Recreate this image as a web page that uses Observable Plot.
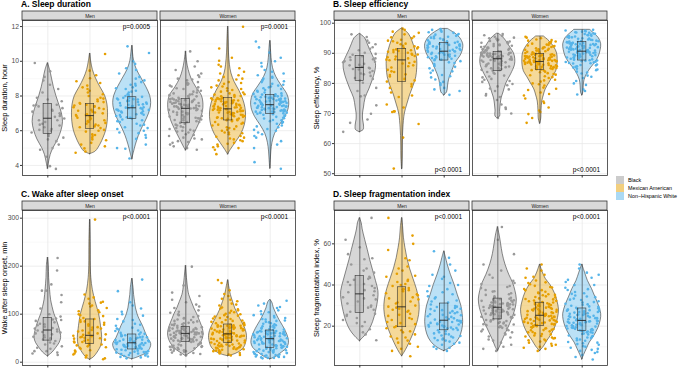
<!DOCTYPE html>
<html><head><meta charset="utf-8">
<script src="https://cdn.jsdelivr.net/npm/d3@7"></script>
<script src="https://cdn.jsdelivr.net/npm/@observablehq/plot@0.6"></script>
<style>
body{margin:0;width:685px;height:368px;position:relative;overflow:hidden;background:#fff;font-family:"Liberation Sans",Arial,sans-serif}
.ttl{position:absolute;font-weight:bold;font-size:8.5px;line-height:9px;color:#000;white-space:nowrap}
.pn{position:absolute}
.lg{position:absolute;left:616px;top:176px;font-size:5.4px;color:#000}
.lg div{display:flex;align-items:center;height:8px;white-space:nowrap}
.lg span.k{display:inline-block;width:8px;height:7.5px;margin-right:4px}
</style></head><body>
<div class="ttl" style="left:21px;top:-0.5px">A. Sleep duration</div>
<div class="ttl" style="left:333px;top:-0.5px">B. Sleep efficiency</div>
<div class="ttl" style="left:21px;top:189.5px">C. Wake after sleep onset</div>
<div class="ttl" style="left:333px;top:189.5px">D. Sleep fragmentation index</div>
<div id="pA" class="pn" style="left:0;top:11px"></div>
<div id="pB" class="pn" style="left:300px;top:11px"></div>
<div id="pC" class="pn" style="left:0;top:201px"></div>
<div id="pD" class="pn" style="left:300px;top:201px"></div>
<div class="lg" id="lg"></div>
<script>
const sexes = ["Men", "Women"];
const groups = ["Black", "Mexican American", "Non-Hispanic White"];
const colors = ["#999999", "#E69F00", "#56B4E9"];

// ---------- A. Sleep duration (hour) ----------
const durMenBlack = [3.8,3.96,4.5,4.9,5.2,5.4,5.5,5.7,5.8,5.9,6.0,6.1,6.2,6.3,6.4,6.5,6.6,6.7,6.8,6.9,7.0,7.1,7.2,7.3,7.4,7.5,7.5,7.7,7.9,8.2,8.65,8.89,9.1,9.42,9.9,5.0,5.6,6.05,6.35,6.6,6.85,7.15,7.45,7.8,8.4];
const durMenMex = [4.73,4.8,4.98,5.1,5.3,5.5,5.6,5.7,5.8,5.95,6.05,6.15,6.2,6.3,6.35,6.45,6.5,6.6,6.65,6.7,6.8,6.85,6.9,6.95,7.0,7.1,7.15,7.2,7.3,7.35,7.4,7.45,7.5,7.6,7.7,7.8,7.9,8.0,8.2,8.4,8.6,8.85,9.02,9.46,10.42,5.2,5.45,5.75,6.0,6.25,6.4,6.55,6.75,6.9,7.05,7.25,7.4,7.55,7.65,7.85,8.1,8.3,8.5,8.75,9.2];
const durMenWhite = [4.4,4.96,5.2,5.53,5.6,5.86,5.9,6.0,6.1,6.2,6.3,6.4,6.5,6.55,6.65,6.7,6.75,6.8,6.85,6.9,6.95,7.0,7.05,7.1,7.15,7.2,7.2,7.25,7.3,7.3,7.35,7.4,7.45,7.5,7.5,7.55,7.6,7.65,7.7,7.75,7.8,7.8,7.85,7.9,7.9,8.0,8.1,8.2,8.3,8.4,8.5,8.6,8.7,8.9,9.1,9.3,9.5,10.0,10.48,10.86,5.0,5.75,6.15,6.35,6.6,6.78,6.92,7.02,7.12,7.22,7.33,7.42,7.52,7.62,7.72,7.82,7.95,8.05,8.25,8.45,8.65,8.8,9.0,9.6,9.85];
const durWomenBlack = [4.9,5.0,5.2,5.3,5.4,5.5,5.6,5.7,5.8,5.9,6.0,6.05,6.1,6.2,6.25,6.3,6.4,6.45,6.5,6.55,6.6,6.65,6.7,6.75,6.8,6.85,6.9,6.95,7.0,7.05,7.1,7.15,7.2,7.25,7.28,7.3,7.35,7.4,7.4,7.45,7.5,7.5,7.55,7.6,7.6,7.65,7.7,7.7,7.75,7.8,7.8,7.82,7.83,7.9,8.0,8.05,8.1,8.2,8.3,8.4,8.5,8.6,8.7,8.8,8.9,9.0,9.2,9.5,10.0,10.57,5.1,5.35,5.55,5.75,5.95,6.15,6.35,6.5,6.62,6.72,6.82,6.92,7.02,7.1,7.18,7.22,7.26,7.32,7.36,7.42,7.46,7.52,7.56,7.62,7.66,7.72,7.76,7.85,7.92,7.98,8.08,8.15,8.25,8.35,8.45,8.55,8.65,8.75,8.95,9.1,9.3,9.7,6.0,6.7,7.4];
const durWomenMex = [4.65,4.9,5.0,5.1,5.2,5.3,5.4,5.5,5.6,5.7,5.8,5.85,5.9,6.0,6.1,6.15,6.2,6.3,6.4,6.45,6.55,6.6,6.62,6.65,6.7,6.72,6.75,6.8,6.85,6.88,6.9,6.95,7.0,7.02,7.05,7.1,7.12,7.15,7.18,7.2,7.22,7.25,7.27,7.3,7.32,7.35,7.4,7.42,7.45,7.5,7.52,7.55,7.6,7.62,7.65,7.7,7.72,7.75,7.8,7.82,7.85,7.87,7.88,7.95,8.0,8.05,8.1,8.2,8.3,8.35,8.4,8.5,8.6,8.7,8.8,8.9,9.0,9.2,9.4,9.6,9.8,10.03,10.2,10.74,11.99,5.05,5.25,5.45,5.65,5.9,6.05,6.25,6.35,6.5,6.6,6.68,6.78,6.83,6.92,6.98,7.04,7.08,7.14,7.2,7.24,7.3,7.34,7.38,7.44,7.48,7.54,7.58,7.64,7.68,7.74,7.78,7.84,7.9,7.98,8.08,8.15,8.25,8.45,8.55,8.75,8.95,9.1,9.3,9.7,5.55];
const durWomenWhite = [3.81,4.19,5.0,5.4,5.6,5.8,5.9,6.0,6.1,6.2,6.3,6.4,6.5,6.55,6.6,6.7,6.75,6.8,6.88,6.95,7.0,7.02,7.05,7.08,7.1,7.12,7.15,7.18,7.2,7.23,7.25,7.28,7.3,7.33,7.35,7.38,7.4,7.43,7.45,7.48,7.52,7.55,7.58,7.6,7.62,7.65,7.68,7.7,7.72,7.75,7.78,7.8,7.83,7.85,7.88,7.9,7.93,7.96,8.0,8.04,8.1,8.15,8.2,8.3,8.4,8.5,8.6,8.7,8.8,8.9,9.0,9.1,9.3,9.5,9.7,10.0,10.2,10.5,10.8,11.14,5.2,5.7,6.05,6.25,6.45,6.62,6.72,6.85,6.92,6.98,7.04,7.1,7.16,7.22,7.26,7.32,7.36,7.42,7.46,7.5,7.54,7.58,7.64,7.66,7.7,7.74,7.78,7.82,7.86,7.9,7.95,7.98,8.02,8.08,8.12,8.25,8.35,8.45,8.55,8.65,8.85,9.05,9.2,9.4,9.9];
// violin outlines: [value, relative half-width]
const durMenBlackViolin = [[3.8,0],[4.1,0.05],[4.6,0.15],[5.0,0.3],[5.5,0.55],[6.0,0.72],[6.5,0.8],[7.0,0.74],[7.5,0.6],[8.0,0.45],[8.5,0.32],[9.0,0.22],[9.5,0.12],[9.9,0]];
const durMenMexViolin = [[4.65,0],[4.8,0.3],[5.2,0.55],[5.6,0.72],[6.0,0.85],[6.5,0.93],[7.0,0.95],[7.5,0.92],[8.0,0.8],[8.5,0.55],[9.0,0.32],[9.5,0.15],[10.0,0.06],[10.45,0]];
const durMenWhiteViolin = [[4.35,0],[4.7,0.08],[5.2,0.2],[5.7,0.35],[6.2,0.55],[6.7,0.78],[7.2,0.95],[7.6,1],[8.0,0.95],[8.5,0.75],[9.0,0.5],[9.5,0.25],[10.0,0.1],[10.5,0.04],[10.9,0]];
const durWomenBlackViolin = [[4.86,0],[5.1,0.12],[5.6,0.35],[6.1,0.58],[6.6,0.78],[7.1,0.9],[7.5,0.93],[8.0,0.85],[8.5,0.55],[9.0,0.3],[9.5,0.15],[10.0,0.06],[10.57,0]];
const durWomenMexViolin = [[4.63,0],[4.9,0.15],[5.3,0.4],[5.8,0.7],[6.3,0.88],[6.8,0.95],[7.3,0.92],[7.8,0.8],[8.3,0.6],[8.8,0.35],[9.3,0.18],[9.8,0.1],[10.5,0.05],[11.2,0.03],[12.0,0]];
const durWomenWhiteViolin = [[3.81,0],[4.3,0.03],[4.8,0.06],[5.3,0.12],[5.8,0.25],[6.3,0.5],[6.8,0.8],[7.3,0.98],[7.7,1],[8.1,0.9],[8.6,0.6],[9.1,0.32],[9.6,0.15],[10.2,0.07],[10.7,0.04],[11.18,0]];
// boxes: [q1, median, q3]
const durBoxes = [[5.82,6.72,7.55],[6.1,6.87,7.55],[6.68,7.32,7.93],[6.43,7.29,7.83],[6.59,7.26,7.89],[6.97,7.5,8.06]];
const durTicks = [4, 6, 8, 10, 12];
const durMinor = [5, 7, 9, 11];
const durP = ["p=0.0005", "p=0.0001"];

// ---------- B. Sleep efficiency (%) ----------
const effMenBlack = [63.9,66.9,68,69.9,72.7,75.7,76,78.5,80.2,81,81.8,82.5,83,83.6,84.1,84.6,85,85.2,85.5,86,86.5,87,87.4,87.8,88.3,88.7,89,89.5,90.2,91,92,93,94.2,95.4,96.3,77.5,81.5,83.3,84.8,86.2,87.2,88,89.8,91.5,93.5];
const effMenMex = [51.7,62,66.5,70.5,70.7,70.7,73,75.5,77,78.5,79.8,80.6,81.5,82.3,83,83.8,84.5,85.3,86,86.6,87.2,87.7,87.9,88.3,88.7,89.1,89.5,89.8,90.2,90.5,90.8,91.1,91.3,91.6,92,92.5,93,93.5,94,94.5,95,95.6,96.3,97.2,98.2,72,76,79,81,82.8,84,85.7,86.8,88,88.9,89.6,90.4,91,91.8,92.3,93.2,94.2,95.3,96.8,97.8];
const effMenWhite = [76.2,77.5,78.5,79.5,80.5,81.3,82,82.8,83.5,84.3,85,85.8,86.4,87,87.4,87.7,87.9,88.2,88.4,88.7,88.9,89.2,89.4,89.6,89.8,90,90.2,90.4,90.5,90.6,90.8,91,91.2,91.4,91.6,91.8,92,92.2,92.4,92.6,92.8,93,93.1,93.2,93.3,93.5,93.8,94,94.3,94.6,94.9,95.2,95.5,95.8,96.1,96.4,96.8,97.2,97.6,98.1,78,80,82.4,84,85.5,86.8,88,88.6,89,89.5,90.1,90.7,91.1,91.5,91.9,92.3,92.7,93.2,93.7,94.4,95,95.6,96.2,97,97.8];
const effWomenBlack = [68.5,70,71.5,73,74.5,75.5,76.5,77.5,78.3,79,79.8,80.5,81.2,82,82.6,83.2,83.8,84.2,84.5,84.8,85.1,85.4,85.7,86,86.2,86.5,86.7,87,87.2,87.4,87.6,87.8,87.9,88,88.1,88.3,88.4,88.5,88.7,88.8,88.9,89,89.1,89.3,89.4,89.5,89.6,89.8,89.9,90,90.1,90.2,90.3,90.5,90.7,91,91.3,91.6,91.9,92.2,92.5,92.9,93.3,93.7,94.1,94.5,95,95.5,96,96.4,72,76,78,79.4,80.8,82.3,83.5,84.4,85,85.6,86.1,86.6,87.1,87.5,87.85,88.05,88.35,88.6,88.85,89.05,89.25,89.45,89.7,89.95,90.15,90.4,90.6,90.9,91.2,91.5,91.8,92.1,92.4,92.7,93.1,93.5,93.9,94.3,94.8,95.2,95.8,81.5,86.3,88.2,89.2];
const effWomenMex = [66.9,68.5,69.8,70.5,72,73.5,75,76,77,77.8,78.6,79.3,80,80.6,81.2,81.8,82.4,82.9,83.4,83.9,84.3,84.6,84.7,84.9,85,85.2,85.3,85.5,85.6,85.8,85.9,86.1,86.2,86.4,86.5,86.7,86.8,86.9,87,87.1,87.2,87.25,87.4,87.5,87.6,87.7,87.8,87.9,88,88.2,88.3,88.4,88.5,88.7,88.8,88.9,89,89.1,89.3,89.4,89.5,89.6,89.7,89.9,90.1,90.3,90.5,90.7,90.9,91.1,91.3,91.5,91.7,91.9,92.1,92.3,92.6,92.9,93.2,93.5,93.8,94.2,94.6,95,95.5,71,74,76.5,78.2,79.7,81,82.1,83.1,83.7,84.4,84.8,85.1,85.4,85.7,86,86.3,86.6,86.9,87.15,87.35,87.55,87.75,87.95,88.1,88.35,88.6,88.85,89.05,89.25,89.55,89.8,90,90.4,90.8,91.2,91.6,92,92.4,92.8,93.3,93.9,94.4,95.2,82.7,86.45];
const effWomenWhite = [76.3,78,79.5,80.8,81.8,82.6,83.3,83.9,84.4,84.9,85.3,85.7,86,86.3,86.6,86.8,87,87.2,87.4,87.5,87.7,87.9,88,88.2,88.4,88.5,88.7,88.9,89,89.2,89.4,89.5,89.7,89.9,90,90.2,90.3,90.4,90.5,90.6,90.8,91,91.1,91.3,91.4,91.6,91.8,91.9,92.1,92.3,92.4,92.6,92.8,92.9,93,93.1,93.3,93.4,93.5,93.6,93.8,94,94.2,94.4,94.6,94.8,95,95.2,95.4,95.6,95.8,96,96.2,96.4,96.6,96.8,97,97.2,97.5,97.8,77.5,80,82.2,83.6,84.6,85.5,86.1,86.7,87.1,87.6,88.1,88.6,89.1,89.6,90.1,90.45,90.7,90.9,91.2,91.5,91.7,92,92.2,92.5,92.7,93.05,93.25,93.45,93.7,93.9,94.1,94.5,94.9,95.3,95.7,96.1,96.5,96.9,97.3,97.6,89.3,90.25,91.05,92.05,93.15];
const effMenBlackViolin = [[63.8,0],[64.5,0.2],[66,0.22],[68,0.17],[70,0.17],[72,0.22],[75,0.3],[78,0.5],[81,0.68],[84,0.82],[86.5,0.85],[89,0.7],[91,0.55],[93,0.42],[95,0.28],[96.5,0]];
const effMenMexViolin = [[51.5,0],[55,0.03],[60,0.04],[65,0.07],[70,0.15],[73,0.28],[76,0.42],[79,0.6],[82,0.75],[85,0.8],[88,0.8],[91,0.7],[94,0.55],[96.5,0.35],[98.3,0]];
const effMenWhiteViolin = [[76,0],[77,0.15],[79,0.2],[81,0.25],[83,0.35],[85,0.48],[87,0.62],[89,0.85],[91,0.98],[93,1],[95,0.85],[96.5,0.6],[97.5,0.35],[98.1,0.2]];
const effWomenBlackViolin = [[68.3,0],[69,0.12],[71,0.12],[73,0.15],[75,0.2],[77,0.3],[80,0.45],[83,0.7],[86,0.9],[88,0.92],[90,0.85],[92,0.65],[94,0.45],[95.5,0.25],[96.5,0.05]];
const effWomenMexViolin = [[66.6,0],[68,0.06],[71,0.08],[74,0.12],[76,0.2],[78,0.3],[80,0.48],[82,0.66],[84,0.85],[86,0.92],[88,0.93],[90,0.9],[92,0.75],[94,0.5],[95.6,0.2]];
const effWomenWhiteViolin = [[76,0],[77,0.06],[79,0.08],[81,0.12],[83,0.25],[85,0.45],[87,0.7],[89,0.88],[91,0.97],[93,1],[95,0.88],[96.5,0.65],[97.3,0.5],[97.8,0.42]];
const effBoxes = [[80.8,85.3,89.1],[80.4,87.8,91.4],[87.6,90.7,93.4],[84.1,88.2,90.4],[84.5,87.3,89.8],[87.6,90.7,93.7]];
const effTicks = [50, 60, 70, 80, 90, 100];
const effMinor = [55, 65, 75, 85, 95];
const effP = ["p<0.0001", "p<0.0001"];

// ---------- C. Wake after sleep onset (min) ----------
const wasoMenBlack = [15,20,23,23,28,33,37,41,44,47,50,53,56,58,60,62,64,66,68,71,74,77,80,83,86,89,91,100,112,140,149,149,162,191,217,18,30,39,52,63,70,79,88,95,125];
const wasoMenMex = [6,10,14,18,22,25,28,30,33,35,37,39,41,43,45,47,49,50,52,53,54,55,58,61,64,67,70,73,76,79,82,85,88,92,96,100,104,108,113,118,122,126,135,141,297,8,16,24,31,36,42,46,51,57,60,66,72,78,84,90,98,106,116,124,132];
const wasoMenWhite = [8,10,12,13,15,16,17,18,19,20,21,22,23,24,26,27,28,29,30,31,32,33,34,35,36,37,38,39,40,40,41,42,43,44,45,46,47,48,50,51,52,53,54,56,57,59,62,65,68,72,76,80,85,90,97,105,112,125,148,172,11,14,18,21,25,28,31,34,36,38,41,43,45,47,49,52,55,58,61,66,70,78,88,100,118];
const wasoWomenBlack = [14,17,20,22,24,26,28,30,31,32,33,34,35,36,38,39,41,42,43,44,45,46,47,48,49,50,51,52,53,54,55,56,57,58,59,60,61,62,63,64,64,65,66,66,67,68,68,69,70,71,71,72,73,75,77,79,81,83,86,89,92,96,100,105,113,120,130,145,160,199,16,19,23,25,27,29,32,34,37,40,43,45,47,49,51,53,55,57,58,59,60,61,62,63,65,66,67,69,70,72,74,76,78,80,82,85,88,91,94,98,103,108,116,125,138];
const wasoWomenMex = [14,16,18,20,22,23,25,26,27,28,29,30,31,32,33,34,35,36,37,38,40,41,42,43,44,45,46,47,48,49,50,51,52,53,54,55,55,56,57,57,58,58,60,61,62,63,64,65,66,67,68,69,70,71,72,73,74,75,76,76,77,77,78,80,82,84,86,88,90,92,95,98,101,104,107,110,114,118,122,127,132,138,142,165,171,15,19,21,24,27,29,31,33,35,37,39,41,43,45,47,49,51,53,54,56,58,59,61,63,65,67,69,71,73,75,77,79,81,83,87,91,94,97,100,103,108,112,120,130,150];
const wasoWomenWhite = [8,9,10,11,12,13,14,15,16,17,18,19,20,21,22,23,25,26,28,29,30,31,32,33,34,35,36,37,38,39,40,41,42,43,44,45,46,47,48,48,50,51,52,53,54,55,56,57,58,59,60,60,61,62,62,63,64,64,65,65,67,69,71,73,75,77,79,81,84,87,90,93,96,100,104,108,113,118,122,128,9,11,13,15,17,19,21,23,24,26,27,29,31,33,35,37,39,41,42,44,45,47,49,50,52,54,56,58,60,61,63,65,68,70,72,74,76,80,83,86,89,92,98,106,115];
const wasoMenBlackViolin = [[12,0],[15,0.1],[20,0.25],[30,0.45],[40,0.62],[50,0.7],[60,0.68],[75,0.58],[90,0.45],[100,0.35],[115,0.25],[130,0.17],[150,0.12],[175,0.07],[200,0.05],[218,0]];
const wasoMenMexViolin = [[5,0],[10,0.2],[20,0.4],[35,0.6],[50,0.64],[75,0.58],[100,0.48],[125,0.3],[150,0.15],[175,0.07],[200,0.04],[250,0.03],[297,0]];
const wasoMenWhiteViolin = [[6,0],[10,0.3],[20,0.8],[30,0.97],[38,1],[50,0.83],[62,0.7],[75,0.57],[90,0.38],[100,0.28],[112,0.2],[125,0.15],[140,0.1],[155,0.07],[174,0]];
const wasoWomenBlackViolin = [[12.5,0],[18,0.2],[25,0.48],[40,0.8],[55,0.93],[65,0.92],[75,0.85],[90,0.7],[100,0.6],[112,0.45],[125,0.32],[140,0.18],[150,0.13],[175,0.06],[201,0]];
const wasoWomenMexViolin = [[12.5,0],[15,0.25],[20,0.55],[30,0.85],[45,0.98],[55,1],[65,0.95],[75,0.85],[90,0.65],[100,0.52],[112,0.38],[125,0.27],[140,0.15],[150,0.1],[171,0]];
const wasoWomenWhiteViolin = [[6,0],[10,0.26],[20,0.62],[30,0.9],[40,0.99],[50,0.96],[62,0.85],[75,0.68],[87,0.5],[100,0.33],[112,0.2],[125,0.1],[130,0]];
const wasoBoxes = [[45,67,92],[38,56,89],[26.5,40.4,57.7],[41.7,60,73],[40.4,59,78.5],[30,49,66]];
const wasoTicks = [0, 100, 200, 300];
const wasoMinor = [50, 150, 250];
const wasoP = ["p<0.0001", "p<0.0001"];

// ---------- D. Sleep fragmentation index (%) ----------
const sfiMenBlack = [13.2,16,18.5,20,21.5,23,24,25,26,27,28,29,30,31,32,33,34,35,36.5,37.5,38.5,39.5,40.5,41.5,42.5,43.5,44,46,48,50,52.5,55,58.3,62,72.6,17,22,25.5,29.5,33.5,37,40,43,47,53];
const sfiMenMex = [5.4,8,10,11.5,13,14,15,16,17,18,19,20,21,22,23,24,25,26,27,28,28.5,29,30,31,32,33,34,35,36,37,37.5,38,38.5,39.5,40.5,41.5,42.5,44,45.5,47,49,52,57,64,72.6,9,12,14.5,17.5,19.5,21.5,23.5,25.5,27.5,29.5,31.5,33.5,35.5,37.8,40,42,44.5,48,53,60];
const sfiMenWhite = [8,9,10,11,12,12.5,13,13.5,14,14.5,15,15.5,16,16.5,17.5,18,18.5,19,19.3,19.6,20,20.3,20.6,21,21.3,21.6,22,22.2,22.5,22.8,23.2,23.8,24.3,24.8,25.3,25.8,26.3,26.8,27.3,27.8,28.3,28.8,29.3,29.8,30.5,31.5,32.5,33.5,34.5,35.5,36.5,38,39.5,41,43,45,47,50,53.2,56.4,9.5,11.5,13.2,14.2,15.2,16.2,17,18.2,19.1,19.8,20.8,21.8,22.6,23.5,24.5,25.5,26.5,27.5,28.5,29.5,32,34,37,40,44];
const sfiWomenBlack = [8,10,12,13.5,15,16,17,18,18.8,19.5,20,20.5,21,21.5,22,22.5,23,23.5,24,24.4,24.8,25.2,25.5,25.8,26.1,26.4,26.7,27,27.3,27.6,27.9,28.2,28.5,28.8,29.1,29.3,29.5,29.7,29.9,30.1,30.3,30.5,30.7,30.9,31.2,31.5,31.8,32,32.3,32.6,32.9,33.1,33.3,33.8,34.5,35.2,36,36.8,37.6,38.5,39.5,40.5,42,43.5,45,47,50,55,62,68.2,9,11,13,14.5,16.5,17.5,18.4,19.2,19.8,20.3,20.8,21.3,21.8,22.3,22.8,23.3,23.8,24.2,24.6,25,25.4,25.7,26,26.3,26.6,26.9,27.2,27.5,27.8,28.1,28.4,28.7,29,29.4,29.8,30.2,30.6,31,31.5,32.5,34,35.5,37,39,41];
const sfiWomenMex = [8,9.5,10.5,11.5,12.5,13,13.5,14,14.5,15,15.5,16,16.5,17,17.5,18,18.3,18.6,19,19.3,19.7,20.2,20.5,20.8,21,21.3,21.5,21.8,22,22.3,22.5,22.8,23,23.3,23.5,23.8,24,24.3,24.5,24.8,25,25.2,25.5,25.8,26.1,26.4,26.7,27,27.3,27.6,27.9,28.2,28.5,28.8,29.1,29.4,29.7,30,30.3,30.6,30.9,31.1,31.3,31.7,32.1,32.5,33,33.5,34,34.5,35,35.5,36,36.7,37.4,38.1,38.8,39.6,40.4,41.3,42.2,43.5,45,48,50,9,10,11,12,13.2,14.2,15.2,16.2,17.2,18.1,18.9,19.5,20,20.6,21.1,21.6,22.1,22.6,23.1,23.6,24.1,24.6,25.1,25.6,26,26.5,27,27.5,28,28.5,29,29.5,30,30.8,31.5,32.3,33.2,34.2,35.2,36.3,37.5,39,41,44,47];
const sfiWomenWhite = [3.8,6,7.5,8.5,9.5,10.3,11,11.7,12.3,12.9,13.5,14,14.5,15,15.5,16,16.4,16.8,17.1,17.4,17.8,18,18.3,18.6,18.9,19.2,19.5,19.8,20.1,20.4,20.7,21,21.3,21.5,21.7,21.9,22.1,22.3,22.5,22.7,23,23.3,23.6,23.9,24.2,24.5,24.8,25.1,25.4,25.7,26,26.3,26.6,26.9,27.2,27.5,27.8,28.1,28.3,28.5,28.9,29.4,29.9,30.4,30.9,31.5,32.1,32.7,33.4,34.1,34.9,35.7,36.6,37.6,38.7,40,41.5,43.5,46,50,5,7,8,9,10,11.3,12,13.2,14.2,15.2,16.2,17,17.6,18.1,18.7,19.3,19.9,20.5,21.1,21.6,22,22.4,22.9,23.4,23.9,24.4,24.9,25.4,25.9,26.4,26.9,27.4,27.9,28.7,29.6,30.6,31.7,32.9,34.4,36,38,40,42.5,45,48];
const sfiMenBlackViolin = [[12.7,0],[15,0.25],[18,0.5],[22,0.7],[27,0.85],[33,0.97],[37,0.98],[42,0.85],[47,0.7],[52,0.55],[57,0.42],[62,0.28],[67,0.15],[70,0.1],[72.6,0]];
const sfiMenMexViolin = [[5.4,0],[7,0.12],[10,0.3],[14,0.5],[18,0.68],[23,0.85],[28,0.93],[33,0.9],[38,0.78],[43,0.6],[48,0.42],[53,0.28],[58,0.18],[63,0.1],[68,0.06],[72.6,0]];
const sfiMenWhiteViolin = [[7.9,0],[9,0.25],[11,0.55],[14,0.8],[18,0.95],[22,1],[26,0.97],[30,0.9],[35,0.72],[40,0.55],[45,0.35],[50,0.18],[53,0.1],[56.4,0]];
const sfiWomenBlackViolin = [[7.9,0],[10,0.12],[13,0.25],[17,0.45],[21,0.65],[25,0.82],[29,0.95],[33,1],[37,0.93],[41,0.8],[45,0.6],[50,0.4],[55,0.26],[60,0.17],[64,0.1],[68.2,0]];
const sfiWomenMexViolin = [[7.9,0],[10,0.2],[13,0.4],[16,0.62],[20,0.83],[24,0.95],[28,1],[32,0.92],[36,0.78],[40,0.55],[43,0.3],[46,0.15],[50,0]];
const sfiWomenWhiteViolin = [[3.8,0],[6,0.1],[9,0.25],[12,0.4],[15,0.62],[19,0.85],[23,0.98],[26,1],[30,0.88],[34,0.7],[38,0.52],[42,0.3],[46,0.15],[50,0]];
const sfiBoxes = [[26.5,35.7,44.3],[19.5,29.4,38.9],[18,22.9,31],[23.3,29.2,33.4],[20,25.3,31.4],[17.6,22.8,28.6]];
const sfiTicks = [20, 40, 60];
const sfiMinor = [10, 30, 50, 70];
const sfiP = ["p<0.0001", "p<0.0001"];

// deterministic horizontal jitter (position only, like geom_jitter width 0.4)
function jit(i, k) {
  const s = Math.sin((i + 1) * 12.9898 + (k + 1) * 78.233) * 43758.5453;
  return (s - Math.floor(s) - 0.5) * 0.8;
}

function panel(el, cfg) {
  const ptRows = [], vRows = [], bRows = [];
  cfg.pts.forEach((arr, k) => {
    const sex = sexes[Math.floor(k / 3)], g = k % 3;
    arr.forEach((v, i) => ptRows.push({sex, grp: groups[g], x: g + 1 + jit(i, k + cfg.seed), v}));
  });
  cfg.violins.forEach((prof, k) => {
    const sex = sexes[Math.floor(k / 3)], g = k % 3;
    prof.forEach(([v, w]) => vRows.push({sex, grp: groups[g], key: k, v, x1: g + 1 - w * 0.45, x2: g + 1 + w * 0.45}));
  });
  cfg.boxes.forEach((b, k) => {
    const sex = sexes[Math.floor(k / 3)], g = k % 3, prof = cfg.violins[k];
    bRows.push({sex, grp: groups[g], c: g + 1, q1: b[0], med: b[1], q3: b[2], lo: prof[0][0], hi: prof[prof.length - 1][0]});
  });
  const frameH = cfg.height - 9 - cfg.marginBottom;
  const span = cfg.domain[1] - cfg.domain[0];
  const stripTop = cfg.domain[1] + 9 * span / frameH;
  const chart = Plot.plot({
    width: cfg.width, height: cfg.height,
    marginLeft: cfg.marginLeft, marginRight: 1, marginTop: 9, marginBottom: cfg.marginBottom,
    style: {background: "transparent", fontFamily: "'Liberation Sans', Arial, sans-serif", overflow: "visible"},
    x: {domain: [0.4, 3.6], axis: null},
    y: {domain: cfg.domain, axis: null},
    fx: {domain: sexes, paddingInner: 0.022, paddingOuter: 0, axis: null},
    color: {domain: groups, range: colors},
    marks: [
      Plot.ruleY(cfg.minor, {stroke: "#f0f0f0", strokeWidth: 0.4}),
      Plot.ruleY(cfg.ticks, {stroke: "#e6e6e6", strokeWidth: 0.7}),
      Plot.ruleX([1, 2, 3], {stroke: "#e6e6e6", strokeWidth: 0.7}),
      Plot.areaX(vRows, {fx: "sex", y: "v", x1: "x1", x2: "x2", z: "key", fill: "grp", fillOpacity: 0.4, stroke: "#3a3a3a", strokeWidth: 0.6, curve: "catmull-rom"}),
      Plot.dot(ptRows, {fx: "sex", x: "x", y: "v", r: 1.3, fill: "grp", stroke: null}),
      Plot.ruleX(bRows, {fx: "sex", x: "c", y1: "lo", y2: "hi", stroke: "#333", strokeWidth: 0.6}),
      Plot.rect(bRows, {fx: "sex", x1: d => d.c - 0.1, x2: d => d.c + 0.1, y1: "q1", y2: "q3", fill: "grp", fillOpacity: 0.3, stroke: "#333", strokeWidth: 0.6}),
      Plot.ruleY(bRows, {fx: "sex", y: "med", x1: d => d.c - 0.1, x2: d => d.c + 0.1, stroke: "#222", strokeWidth: 0.9}),
      Plot.frame({stroke: "#333", strokeWidth: 0.8}),
      Plot.rect(sexes, {fx: d => d, y1: cfg.domain[1], y2: stripTop, fill: "#d9d9d9", stroke: "#333", strokeWidth: 0.8}),
      Plot.text(sexes, {fx: d => d, text: d => d, frameAnchor: "top", lineAnchor: "middle", dy: -4.5, fontSize: 5, fill: "#1a1a1a"}),
      Plot.text(cfg.pvals, {fx: (d, i) => sexes[i], text: d => d, frameAnchor: cfg.pBottom ? "bottom-right" : "top-right", dx: -7.5, dy: cfg.pBottom ? -4 : 3.5, fontSize: 6.5, fill: "#000"}),
      Plot.axisY({ticks: cfg.ticks, tickSize: 2, tickPadding: 1.5, fontSize: 6.8, fill: "#4d4d4d", stroke: "#333", label: null}),
      Plot.axisY({ticks: [], tickSize: 0, label: cfg.label, labelAnchor: "center", labelArrow: "none", labelOffset: 21, fontSize: 7.5, fill: "#000"}),
      Plot.axisX({ticks: [1, 2, 3], tickSize: 2.5, tickFormat: () => "", stroke: "#333", label: null})
    ]
  });
  document.getElementById(el).appendChild(chart);
}

panel("pA", {seed: 0, width: 296, height: 169, marginLeft: 21, marginBottom: 5, domain: [3.42, 12.35], ticks: durTicks, minor: durMinor,
  label: "Sleep duration, hour", pvals: durP, pBottom: false,
  pts: [durMenBlack, durMenMex, durMenWhite, durWomenBlack, durWomenMex, durWomenWhite],
  violins: [durMenBlackViolin, durMenMexViolin, durMenWhiteViolin, durWomenBlackViolin, durWomenMexViolin, durWomenWhiteViolin],
  boxes: durBoxes});
panel("pB", {seed: 10, width: 308, height: 169, marginLeft: 33, marginBottom: 5, domain: [49.4, 100.9], ticks: effTicks, minor: effMinor,
  label: "Sleep efficiency, %", pvals: effP, pBottom: true,
  pts: [effMenBlack, effMenMex, effMenWhite, effWomenBlack, effWomenMex, effWomenWhite],
  violins: [effMenBlackViolin, effMenMexViolin, effMenWhiteViolin, effWomenBlackViolin, effWomenMexViolin, effWomenWhiteViolin],
  boxes: effBoxes});
panel("pC", {seed: 20, width: 296, height: 167, marginLeft: 21, marginBottom: 3, domain: [-6.9, 316], ticks: wasoTicks, minor: wasoMinor,
  label: "Wake after sleep onset, min", pvals: wasoP, pBottom: false,
  pts: [wasoMenBlack, wasoMenMex, wasoMenWhite, wasoWomenBlack, wasoWomenMex, wasoWomenWhite],
  violins: [wasoMenBlackViolin, wasoMenMexViolin, wasoMenWhiteViolin, wasoWomenBlackViolin, wasoWomenMexViolin, wasoWomenWhiteViolin],
  boxes: wasoBoxes});
panel("pD", {seed: 30, width: 308, height: 167, marginLeft: 33, marginBottom: 3, domain: [0.9, 76.2], ticks: sfiTicks, minor: sfiMinor,
  label: "Sleep fragmentation index, %", pvals: sfiP, pBottom: false,
  pts: [sfiMenBlack, sfiMenMex, sfiMenWhite, sfiWomenBlack, sfiWomenMex, sfiWomenWhite],
  violins: [sfiMenBlackViolin, sfiMenMexViolin, sfiMenWhiteViolin, sfiWomenBlackViolin, sfiWomenMexViolin, sfiWomenWhiteViolin],
  boxes: sfiBoxes});

// legend
const lg = document.getElementById("lg");
groups.forEach((g, i) => {
  const row = document.createElement("div");
  const key = document.createElement("span");
  key.className = "k";
  key.style.background = colors[i];
  key.style.opacity = 0.5;
  row.appendChild(key);
  row.appendChild(document.createTextNode(g === "Non-Hispanic White" ? "Non\u2212Hispanic White" : g));
  lg.appendChild(row);
});
</script>
</body></html>
